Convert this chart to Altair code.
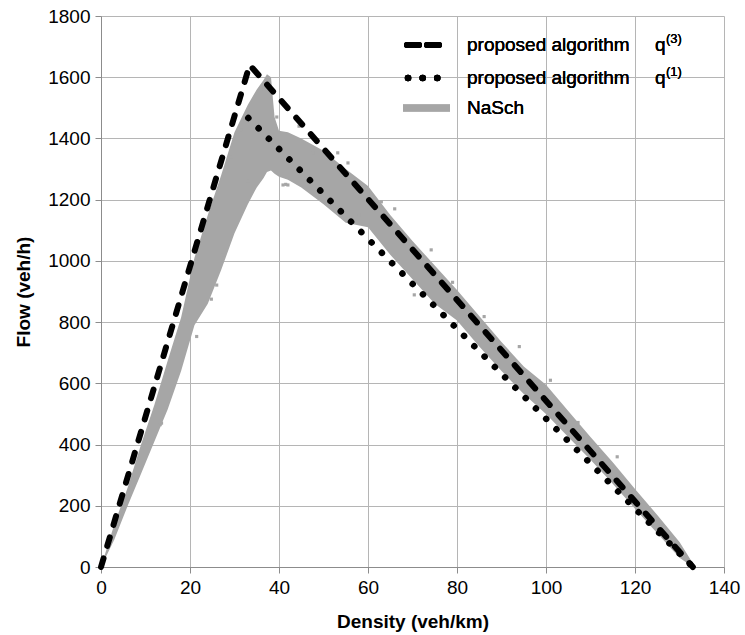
import altair as alt
import pandas as pd

# ---- data ----
# proposed algorithm q(3): triangular fundamental diagram (dashed)
q3_density = [0.0, 33.4, 133.0]
q3_flow = [0.0, 1640.0, 0.0]

# proposed algorithm q(1) (dotted)
q1_density = [33.1, 133.0]
q1_flow = [1467.0, 0.0]

# NaSch cloud envelope: for each density, lower and upper flow of the gray cloud
cloud_density = [0, 3, 6, 9, 12, 15, 18, 21, 24, 27, 30, 33, 35, 36.5, 37.3, 38.2, 39.0, 40, 42, 45, 50, 55, 60, 65, 70, 75, 80, 85, 90, 95, 100, 105, 110, 115, 120, 125, 130, 133]
cloud_fmin = [0, 90, 200, 305, 410, 515, 640, 790, 860, 970, 1090, 1185, 1240, 1270, 1290, 1295, 1285, 1275, 1265, 1240, 1185, 1125, 1110, 1020, 940, 860, 805, 720, 640, 565, 500, 425, 350, 272, 190, 110, 30, 0]
cloud_fmax = [0, 140, 260, 400, 530, 675, 815, 1010, 1150, 1280, 1420, 1510, 1560, 1590, 1610, 1600, 1470, 1425, 1420, 1400, 1360, 1300, 1245, 1150, 1065, 985, 905, 820, 735, 655, 595, 510, 425, 342, 255, 170, 82, 12]

# scattered NaSch outliers
out_density = [31.4, 29.3, 40.9, 42.0, 53.2, 47.6, 63.0, 74.2, 94.0, 86.1, 70.4, 107.2, 24.8, 21.5, 13.3, 26.0, 13.6, 44.5, 36.0, 27.5, 46.0, 51.0, 58.0, 33.0, 39.5, 41.5, 55.5, 66.0, 79.0, 101.0, 116.0]
out_flow = [1427, 1340, 1248, 1248, 1353, 1353, 1193, 1036, 720, 818, 889, 472, 875, 753, 465, 921, 470, 1440, 1560, 1020, 1270, 1200, 1150, 1260, 1470, 1250, 1320, 1170, 930, 610, 360]

GRAY = "#a6a6a6"
FONT = "Liberation Sans"

q3 = pd.DataFrame({"d": q3_density, "f": q3_flow})
q1 = pd.DataFrame({"d": q1_density, "f": q1_flow})
cloud = pd.DataFrame({"d": cloud_density, "f0": cloud_fmin, "f1": cloud_fmax})
outl = pd.DataFrame({"d": out_density, "f": out_flow})

xs = alt.Scale(domain=[0, 140], nice=False)
ys = alt.Scale(domain=[0, 1800], nice=False)

xax = alt.Axis(values=list(range(0, 141, 20)), title="Density (veh/km)", grid=True, labelFlush=False)
yax = alt.Axis(values=list(range(0, 1801, 200)), title="Flow (veh/h)", grid=True, format="d")

cloud_area = alt.Chart(cloud).mark_area(color=GRAY, opacity=1).encode(
    x=alt.X("d:Q", scale=xs, axis=xax),
    y=alt.Y("f0:Q", scale=ys, axis=yax),
    y2="f1:Q",
)

pts = alt.Chart(outl).mark_square(color=GRAY, size=10, opacity=1).encode(
    x=alt.X("d:Q", scale=xs),
    y=alt.Y("f:Q", scale=ys),
)

dotted = alt.Chart(q1).mark_line(
    color="black", strokeWidth=6.5, strokeCap="round", strokeDash=[0.1, 14.5]
).encode(x=alt.X("d:Q", scale=xs), y=alt.Y("f:Q", scale=ys))

dashed = alt.Chart(q3).mark_line(
    color="black", strokeWidth=6, strokeCap="round", strokeDash=[9, 13]
).encode(x=alt.X("d:Q", scale=xs), y=alt.Y("f:Q", scale=ys))

# ---- legend (drawn manually) ----
leg_dash = alt.Chart(q3).mark_rule(color="black", strokeWidth=6, strokeCap="round", strokeDash=[12, 8]).encode(
    x=alt.value(306), x2=alt.value(344), y=alt.value(29)
)
leg_dot = alt.Chart(q3).mark_rule(color="black", strokeWidth=6.5, strokeCap="round", strokeDash=[0.1, 14.5]).encode(
    x=alt.value(307), x2=alt.value(337), y=alt.value(62)
)
leg_gray = alt.Chart(q3).mark_rule(color=GRAY, strokeWidth=7).encode(
    x=alt.value(302), x2=alt.value(349), y=alt.value(92)
)
leg_labels = ["proposed algorithm", "proposed algorithm", "NaSch"]
leg_y = [29, 62, 92]
lt = []
for lab, yy in zip(leg_labels, leg_y):
    lt.append(alt.Chart(q3).mark_text(align="left", baseline="middle", font=FONT, fontSize=19, color="black", text=lab).encode(
        x=alt.value(366), y=alt.value(yy)))
for yy in leg_y[:2]:
    lt.append(alt.Chart(q3).mark_text(align="left", baseline="middle", font=FONT, fontSize=19, color="black", text="q").encode(
        x=alt.value(554), y=alt.value(yy)))
for sup, yy in zip(["(3)", "(1)"], leg_y[:2]):
    lt.append(alt.Chart(q3).mark_text(align="left", baseline="middle", font=FONT, fontSize=13, color="black", text=sup).encode(
        x=alt.value(565), y=alt.value(yy - 6)))

chart = alt.layer(cloud_area, pts, dotted, dashed, leg_dash, leg_dot, leg_gray, *lt).properties(
    width=623, height=551,
    autosize=alt.AutoSizeParams(type="none"),
    padding={"left": 101, "top": 16, "right": 21, "bottom": 68},
).configure_view(stroke=None).configure_axis(
    labelFont=FONT, labelFontSize=19, labelColor="black",
    titleFont=FONT, titleFontSize=19, titleFontWeight="bold", titleColor="black",
    gridColor="#b5b5b5", gridWidth=1, domainColor="#8c8c8c", domainWidth=1,
    tickColor="#8c8c8c", tickSize=6, labelPadding=5,
).configure_axisX(titlePadding=15).configure_axisY(titlePadding=14)

chart.save("out.html", embed_options={"renderer": "svg", "actions": False})
